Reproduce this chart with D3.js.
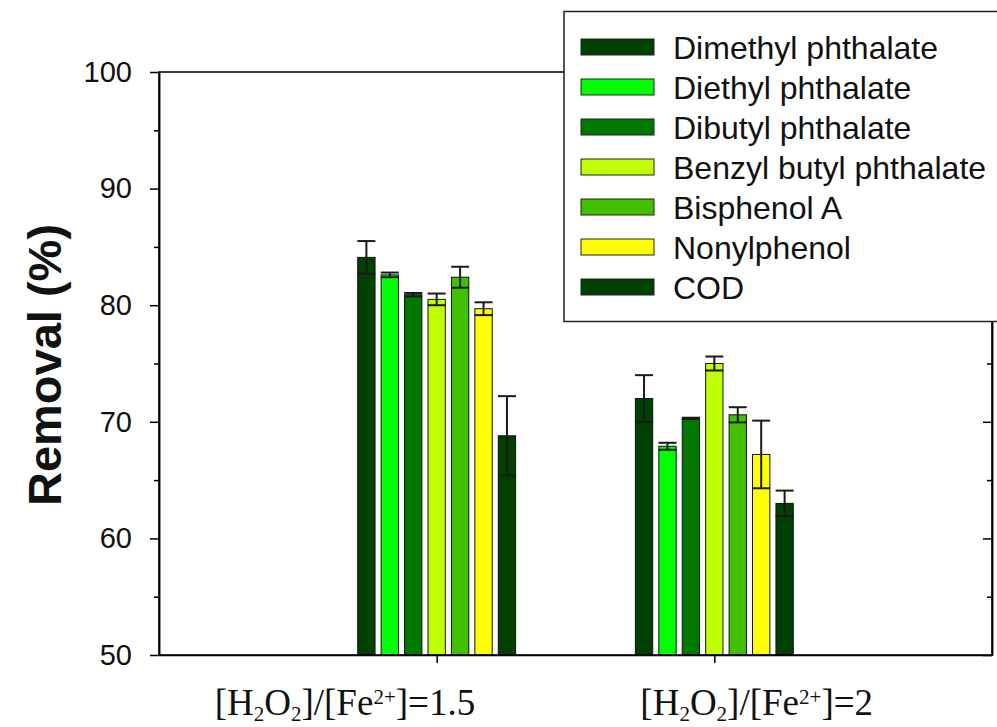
<!DOCTYPE html>
<html>
<head>
<meta charset="utf-8">
<script src="https://cdn.jsdelivr.net/npm/d3@7"></script>
<style>
  body { margin: 0; background: #fff; }
  svg { display: block; }
</style>
</head>
<body>
<svg id="chart" width="997" height="727"></svg>
<script>
// data
var series = ["Dimethyl phthalate", "Diethyl phthalate", "Dibutyl phthalate",
              "Benzyl butyl phthalate", "Bisphenol A", "Nonylphenol", "COD"];
var colors = ["#004000", "#00ff00", "#007800", "#c0ff00", "#40c000", "#ffff00", "#004000"];
var ratios = ["1.5", "2"];
var values15 = [84.1, 82.6, 80.9, 80.5, 82.4, 79.7, 68.8];
var errors15 = [1.4, 0.2, 0.15, 0.5, 0.9, 0.55, 3.4];
var values2 = [72.0, 67.9, 70.3, 75.0, 70.6, 67.2, 63.0];
var errors2 = [2.0, 0.3, 0.05, 0.6, 0.65, 2.9, 1.1];
var yTicks = [50, 60, 70, 80, 90, 100];
var yMinor = [55, 65, 75, 85, 95];

var svg = d3.select("#chart");
var L = 159, R = 992, T = 72, B = 655;

var x = d3.scaleLinear().domain([0, 3]).range([L, R]);
var y = d3.scaleLinear().domain([50, 100]).range([B, T]);
var inner = d3.scaleBand().domain(series).range([-82, 82])
    .paddingInner(0.26).paddingOuter(0.13);

var groups = [
  { pos: 1, vals: values15, errs: errors15 },
  { pos: 2, vals: values2, errs: errors2 }
];

// bars
groups.forEach(function (g) {
  var gg = svg.append("g");
  var rows = series.map(function (s, i) {
    return { s: s, v: g.vals[i], e: g.errs[i], c: colors[i] };
  });
  gg.selectAll("rect").data(rows).enter().append("rect")
    .attr("x", function (d) { return x(g.pos) + inner(d.s); })
    .attr("y", function (d) { return y(d.v); })
    .attr("width", inner.bandwidth())
    .attr("height", function (d) { return y(50) - y(d.v); })
    .attr("fill", function (d) { return d.c; })
    .attr("stroke", "#111")
    .attr("stroke-width", 1);

  var eb = gg.selectAll("g.err").data(rows).enter().append("g")
    .attr("class", "err")
    .attr("stroke", "#1a1a1a").attr("stroke-width", 2);
  eb.append("line")
    .attr("x1", function (d) { return x(g.pos) + inner(d.s) + inner.bandwidth() / 2; })
    .attr("x2", function (d) { return x(g.pos) + inner(d.s) + inner.bandwidth() / 2; })
    .attr("y1", function (d) { return y(d.v + d.e); })
    .attr("y2", function (d) { return y(d.v - d.e); });
  [1, -1].forEach(function (sgn) {
    eb.append("line")
      .attr("x1", function (d) { return x(g.pos) + inner(d.s) + inner.bandwidth() / 2 - 9; })
      .attr("x2", function (d) { return x(g.pos) + inner(d.s) + inner.bandwidth() / 2 + 9; })
      .attr("y1", function (d) { return y(d.v + sgn * d.e); })
      .attr("y2", function (d) { return y(d.v + sgn * d.e); });
  });
});

// frame
svg.append("path")
  .attr("d", "M" + L + "," + T + "H" + R + "V" + B + "H" + L + "Z")
  .attr("fill", "none").attr("stroke", "#000").attr("stroke-width", 1.5);

// left axis
var yAx = svg.append("g").attr("transform", "translate(" + L + ",0)")
  .call(d3.axisLeft(y).tickValues(yTicks).tickSize(9).tickSizeOuter(0).tickPadding(18));
yAx.selectAll("text").attr("font-family", "Liberation Sans, Arial, sans-serif")
  .attr("font-size", 29).attr("fill", "#111");
svg.append("g").attr("transform", "translate(" + L + ",0)")
  .call(d3.axisLeft(y).tickValues(yMinor).tickSize(5).tickSizeOuter(0).tickFormat(""));

// right axis, ticks inward
svg.append("g").attr("transform", "translate(" + R + ",0)")
  .call(d3.axisRight(y).tickValues(yTicks).tickSize(-9).tickSizeOuter(0).tickFormat(""));
svg.append("g").attr("transform", "translate(" + R + ",0)")
  .call(d3.axisRight(y).tickValues(yMinor).tickSize(-5).tickSizeOuter(0).tickFormat(""));

// bottom axis
svg.append("g").attr("transform", "translate(0," + B + ")")
  .call(d3.axisBottom(x).tickValues([1, 2]).tickSize(8).tickSizeOuter(0).tickFormat(""));

svg.selectAll(".domain").attr("stroke", "#000").attr("stroke-width", 1.5);
svg.selectAll(".tick line").attr("stroke", "#000").attr("stroke-width", 1.5);

// x labels
var xLabelLeft = [222, 74];
ratios.forEach(function (r, i) {
  var t = svg.append("text")
    .attr("x", x(i + 1) - xLabelLeft[i]).attr("y", 715)
    .attr("font-family", "Liberation Serif, Times New Roman, serif")
    .attr("font-size", 37).attr("fill", "#111");
  t.append("tspan").text("[H");
  t.append("tspan").attr("font-size", 21).attr("dy", 6).text("2");
  t.append("tspan").attr("dy", -6).text("O");
  t.append("tspan").attr("font-size", 21).attr("dy", 6).text("2");
  t.append("tspan").attr("dy", -6).text("]/[Fe");
  t.append("tspan").attr("font-size", 21).attr("dy", -11).text("2+");
  t.append("tspan").attr("dy", 11).text("]=" + r);
});

// y title
svg.append("text")
  .attr("transform", "translate(61,365) rotate(-90)")
  .attr("text-anchor", "middle")
  .attr("font-family", "Liberation Sans, Arial, sans-serif")
  .attr("font-weight", "bold").attr("font-size", 47).attr("fill", "#111")
  .text("Removal (%)");

// legend
var leg = svg.append("g");
leg.append("rect").attr("x", 564).attr("y", 11.5).attr("width", 450).attr("height", 310)
  .attr("fill", "#fff").attr("stroke", "#222").attr("stroke-width", 1.5);
var items = leg.selectAll("g.item").data(series).enter().append("g")
  .attr("transform", function (d, i) { return "translate(0," + (47 + 40 * i) + ")"; });
items.append("rect").attr("x", 581).attr("y", -8).attr("width", 73).attr("height", 16)
  .attr("fill", function (d, i) { return colors[i]; })
  .attr("stroke", "#222").attr("stroke-width", 1);
items.append("text").attr("x", 673).attr("y", 11.5)
  .attr("font-family", "Liberation Sans, Arial, sans-serif")
  .attr("font-size", 32).attr("fill", "#111")
  .text(function (d) { return d; });
</script>
</body>
</html>
